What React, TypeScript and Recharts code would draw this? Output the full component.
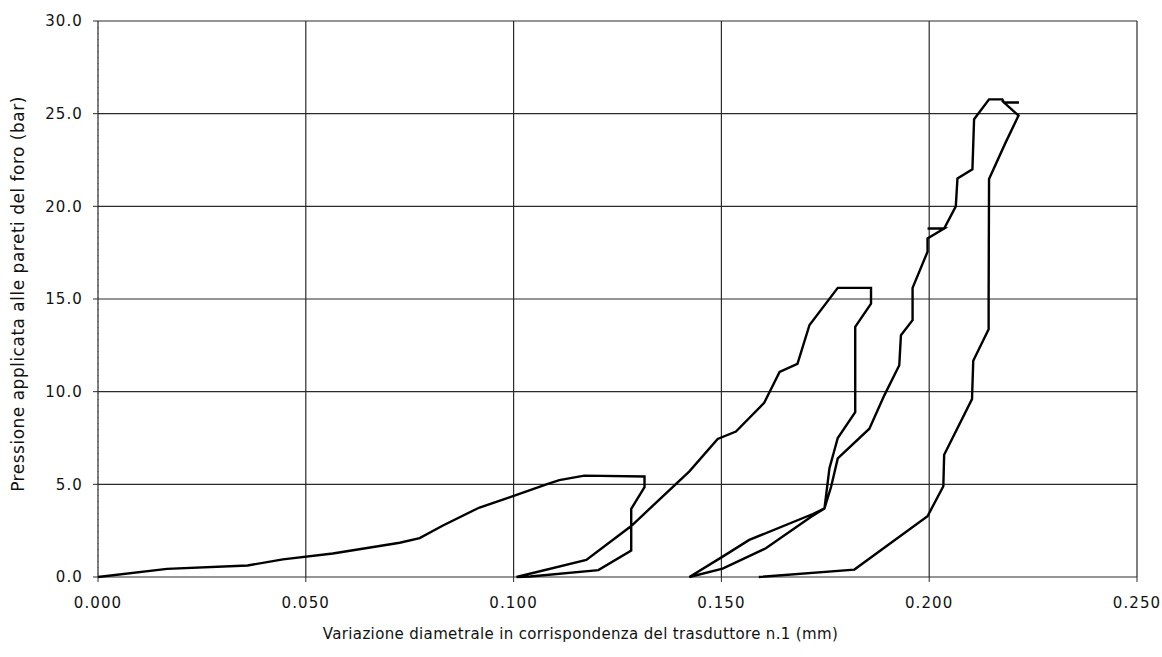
import { CartesianGrid, Line, LineChart, XAxis, YAxis } from 'recharts'

// Prova dilatometrica: cicli di carico/scarico, [diametro mm, pressione bar]
const carico1: [number, number][] = [
  [0, 0],
  [0.0166, 0.44],
  [0.036, 0.62],
  [0.0445, 0.95],
  [0.0565, 1.27],
  [0.0726, 1.85],
  [0.0774, 2.1],
  [0.083, 2.78],
  [0.0918, 3.75],
  [0.099, 4.3],
  [0.1079, 5.0],
  [0.111, 5.23],
  [0.117, 5.47],
  [0.1315, 5.42],
]

const scarico1: [number, number][] = [
  [0.1315, 4.85],
  [0.1283, 3.68],
  [0.1283, 1.43],
  [0.1204, 0.37],
  [0.104, 0.03],
  [0.1007, 0],
]

const carico2: [number, number][] = [
  [0.1175, 0.92],
  [0.1283, 2.75],
  [0.1423, 5.7],
  [0.1491, 7.45],
  [0.1535, 7.85],
  [0.1603, 9.4],
  [0.164, 11.06],
  [0.1683, 11.5],
  [0.1712, 13.6],
  [0.178, 15.6],
  [0.186, 15.6],
]

const scarico2: [number, number][] = [
  [0.186, 14.75],
  [0.1822, 13.5],
  [0.1822, 8.9],
  [0.178, 7.5],
  [0.176, 5.87],
  [0.1748, 3.7],
  [0.1716, 3.25],
  [0.1607, 1.55],
  [0.1503, 0.45],
  [0.1423, 0],
]

const ricarico2: [number, number][] = [
  [0.1503, 1.1],
  [0.1567, 2.0],
  [0.172, 3.4],
  [0.1748, 3.7],
]

const carico3: [number, number][] = [
  [0.1764, 4.87],
  [0.178, 6.4],
  [0.1856, 8.0],
  [0.1892, 9.8],
  [0.1928, 11.43],
  [0.1932, 13.05],
  [0.196, 13.86],
  [0.196, 15.6],
  [0.1996, 17.55],
  [0.1996, 18.27],
  [0.2036, 18.8],
  [0.1996, 18.8],
  [0.2036, 18.8],
  [0.2064, 20.0],
  [0.2068, 21.5],
  [0.2104, 22.0],
  [0.2108, 24.7],
  [0.2144, 25.77],
  [0.2176, 25.77],
  [0.218, 25.6],
  [0.2216, 25.6],
  [0.218, 25.6],
  [0.2215, 24.9],
]

const scarico3: [number, number][] = [
  [0.2184, 23.45],
  [0.2144, 21.47],
  [0.2143, 15.08],
  [0.2143, 13.37],
  [0.2106, 11.67],
  [0.2103, 9.6],
  [0.2036, 6.6],
  [0.2034, 4.9],
  [0.1996, 3.28],
  [0.182, 0.4],
  [0.159, 0],
]

const xTicks = [0, 0.05, 0.1, 0.15, 0.2, 0.25]
const yTicks = [0, 5, 10, 15, 20, 25, 30]

const prova = [carico1, scarico1, carico2, scarico2, ricarico2, carico3, scarico3]
  .flat()
  .map(([d, p]) => ({ d, p }))

const FONT = '"DejaVu Sans", Verdana, sans-serif'
const GRID = '#2b2b2b'
const TICK = { fill: '#111', fontSize: 15, fontFamily: FONT, letterSpacing: 1.1 }

export default function App() {
  return (
    <div style={{ position: 'absolute', left: 0, top: 0, background: '#fff' }}>
      <LineChart
        width={1162}
        height={657}
        data={prova}
        margin={{ top: 21, right: 25, bottom: 0, left: 0 }}
      >
        <CartesianGrid stroke={GRID} strokeWidth={1.2} />
        <XAxis
          dataKey="d"
          type="number"
          domain={[0, 0.25]}
          ticks={xTicks}
          tickFormatter={(v: number) => v.toFixed(3)}
          tick={TICK}
          axisLine={false}
          tickLine={{ stroke: GRID }}
          tickSize={5}
          tickMargin={15}
          height={80}
          label={{
            value: 'Variazione diametrale in corrispondenza del trasduttore n.1 (mm)',
            position: 'insideBottom',
            offset: 18,
            dx: -37,
            fill: '#111',
            fontSize: 15,
            fontFamily: FONT,
            letterSpacing: 0.35,
          }}
        />
        <YAxis
          dataKey="p"
          type="number"
          domain={[0, 30]}
          ticks={yTicks}
          tickFormatter={(v: number) => v.toFixed(1)}
          tick={TICK}
          axisLine={{ stroke: '#555', strokeDasharray: '1 5' }}
          tickLine={{ stroke: GRID }}
          tickSize={5}
          tickMargin={10}
          width={98}
          label={{
            value: 'Pressione applicata alle pareti del foro (bar)',
            angle: -90,
            position: 'insideLeft',
            offset: 18,
            dy: -5,
            fill: '#111',
            fontSize: 17,
            fontFamily: FONT,
            letterSpacing: 0.5,
            style: { textAnchor: 'middle' },
          }}
        />
        <Line
          dataKey="p"
          type="linear"
          stroke="#000"
          strokeWidth={2.4}
          strokeLinejoin="miter"
          dot={false}
          activeDot={false}
          isAnimationActive={false}
        />
      </LineChart>
    </div>
  )
}
